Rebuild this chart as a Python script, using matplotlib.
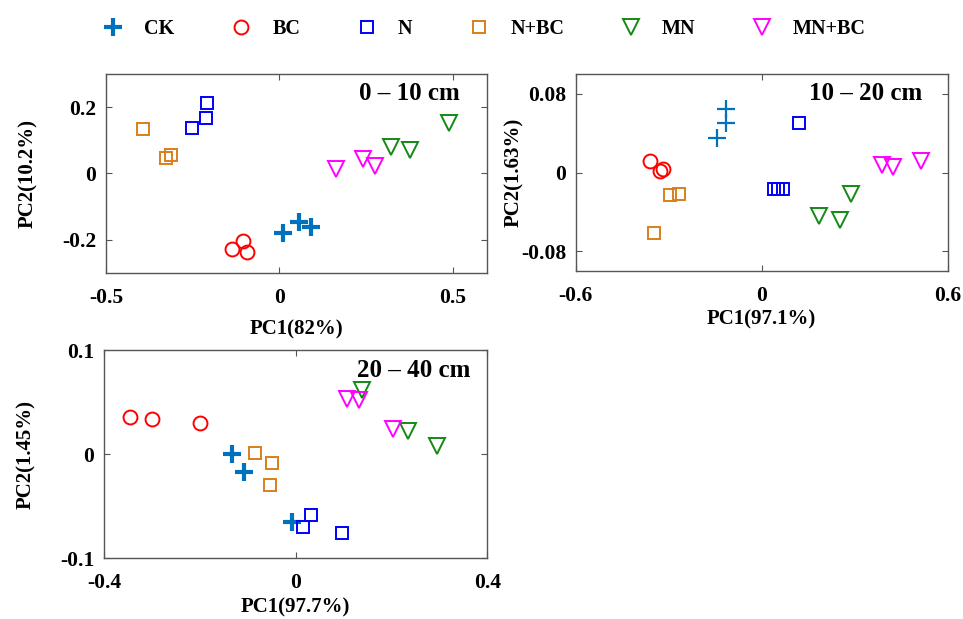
import matplotlib
matplotlib.use('Agg')
import matplotlib.pyplot as plt
from matplotlib.lines import Line2D

plt.rcParams['font.family'] = ['Liberation Serif', 'DejaVu Serif']
plt.rcParams['font.weight'] = 'bold'
plt.rcParams['axes.labelweight'] = 'bold'

groups = ['CK', 'BC', 'N', 'N+BC', 'MN', 'MN+BC']
colors = ['#0072BD', '#FF0000', '#0000FF', '#D97F1A', '#138A13', '#FF00FF']
markers = ['+', 'o', 's', 's', 'v', 'v']
sizes = [13, 10, 8, 8, 11, 11]

# 0 - 10 cm
x1 = {'CK': [0.012, 0.057, 0.091], 'BC': [-0.135, -0.105, -0.092],
      'N': [-0.251, -0.210, -0.208], 'N+BC': [-0.393, -0.328, -0.311],
      'MN': [0.322, 0.378, 0.490], 'MN+BC': [0.164, 0.241, 0.277]}
y1 = {'CK': [-0.178, -0.146, -0.161], 'BC': [-0.228, -0.204, -0.238],
      'N': [0.137, 0.167, 0.211], 'N+BC': [0.134, 0.046, 0.056],
      'MN': [0.080, 0.070, 0.152], 'MN+BC': [0.014, 0.045, 0.024]}

# 10 - 20 cm
x2 = {'CK': [-0.144, -0.116, -0.114], 'BC': [-0.360, -0.330, -0.319],
      'N': [0.119, 0.038, 0.054, 0.068], 'N+BC': [-0.295, -0.267, -0.348],
      'MN': [0.186, 0.252, 0.288], 'MN+BC': [0.389, 0.425, 0.514]}
y2 = {'CK': [0.035, 0.051, 0.065], 'BC': [0.012, 0.002, 0.0035],
      'N': [0.051, -0.017, -0.017, -0.017], 'N+BC': [-0.0226, -0.0213, -0.061],
      'MN': [-0.044, -0.0476, -0.0219], 'MN+BC': [0.0074, 0.0057, 0.0118]}

# 20 - 40 cm
x3 = {'CK': [-0.133, -0.108, -0.008], 'BC': [-0.346, -0.299, -0.200],
      'N': [0.016, 0.033, 0.097], 'N+BC': [-0.084, -0.049, -0.053],
      'MN': [0.139, 0.235, 0.295], 'MN+BC': [0.108, 0.133, 0.203]}
y3 = {'CK': [0.0, -0.0176, -0.065], 'BC': [0.0358, 0.0336, 0.0294],
      'N': [-0.0698, -0.0586, -0.0762], 'N+BC': [0.0006, -0.0083, -0.0298],
      'MN': [0.062, 0.022, 0.008], 'MN+BC': [0.0525, 0.0518, 0.0237]}

panels = [
    dict(x=x1, y=y1, rect=[0.110, 0.559, 0.396, 0.3215], xlim=(-0.5, 0.6), ylim=(-0.3, 0.3),
         xt=[-0.5, 0, 0.5], yt=[-0.2, 0, 0.2], xl='PC1(82%)', yl='PC2(10.2%)',
         title='0 – 10 cm', tpos=(0.929, 0.96), ckw=3.0, xpad=8, ypad=17),
    dict(x=x2, y=y2, rect=[0.598, 0.562, 0.386, 0.318], xlim=(-0.6, 0.6), ylim=(-0.1, 0.1),
         xt=[-0.6, 0, 0.6], yt=[-0.08, 0, 0.08], xl='PC1(97.1%)', yl='PC2(1.63%)',
         title='10 – 20 cm', tpos=(0.933, 0.96), ckw=1.6, xpad=2, ypad=-2),
    dict(x=x3, y=y3, rect=[0.108, 0.0985, 0.398, 0.336], xlim=(-0.4, 0.4), ylim=(-0.1, 0.1),
         xt=[-0.4, 0, 0.4], yt=[-0.1, 0, 0.1], xl='PC1(97.7%)', yl='PC2(1.45%)',
         title='20 – 40 cm', tpos=(0.956, 0.955), ckw=3.0, xpad=3, ypad=17),
]

fig = plt.figure(figsize=(9.63, 6.19), dpi=100)

for p in panels:
    ax = fig.add_axes(p['rect'])
    for g, c, m, s in zip(groups, colors, markers, sizes):
        mew = p['ckw'] if g == 'CK' else 1.4
        ax.plot(p['x'][g], p['y'][g], linestyle='none', marker=m, markersize=s,
                markerfacecolor='none', markeredgecolor=c, markeredgewidth=mew)
    ax.set_xlim(p['xlim'])
    ax.set_ylim(p['ylim'])
    ax.set_xticks(p['xt'])
    ax.set_yticks(p['yt'])
    ax.set_xticklabels([f'{v:g}' for v in p['xt']])
    ax.set_yticklabels([f'{v:g}' for v in p['yt']])
    ax.tick_params(direction='in', top=True, right=True, labelsize=15.5, length=4,
                   color='#555555')
    ax.tick_params(axis='x', pad=11)
    ax.tick_params(axis='y', pad=7)
    for sp in ax.spines.values():
        sp.set_color('#555555')
        sp.set_linewidth(1.0)
    ax.set_xlabel(p['xl'], fontsize=15, labelpad=p['xpad'])
    ax.set_ylabel(p['yl'], fontsize=15, labelpad=p['ypad'])
    ax.text(p['tpos'][0], p['tpos'][1], p['title'], transform=ax.transAxes,
            ha='right', va='top', fontsize=18, fontweight='bold')

handles = []
for g, c, m, s in zip(groups, colors, markers, sizes):
    mew = 3.0 if g == 'CK' else 1.4
    handles.append(Line2D([], [], linestyle='none', marker=m, markersize=s,
                          markerfacecolor='none', markeredgecolor=c, markeredgewidth=mew))
fig.legend(handles, groups, loc='center', bbox_to_anchor=(0.498, 0.953), ncol=6,
           frameon=False, fontsize=14.5, handletextpad=0.55, columnspacing=2.3)

fig.savefig('out.png', dpi=100)
